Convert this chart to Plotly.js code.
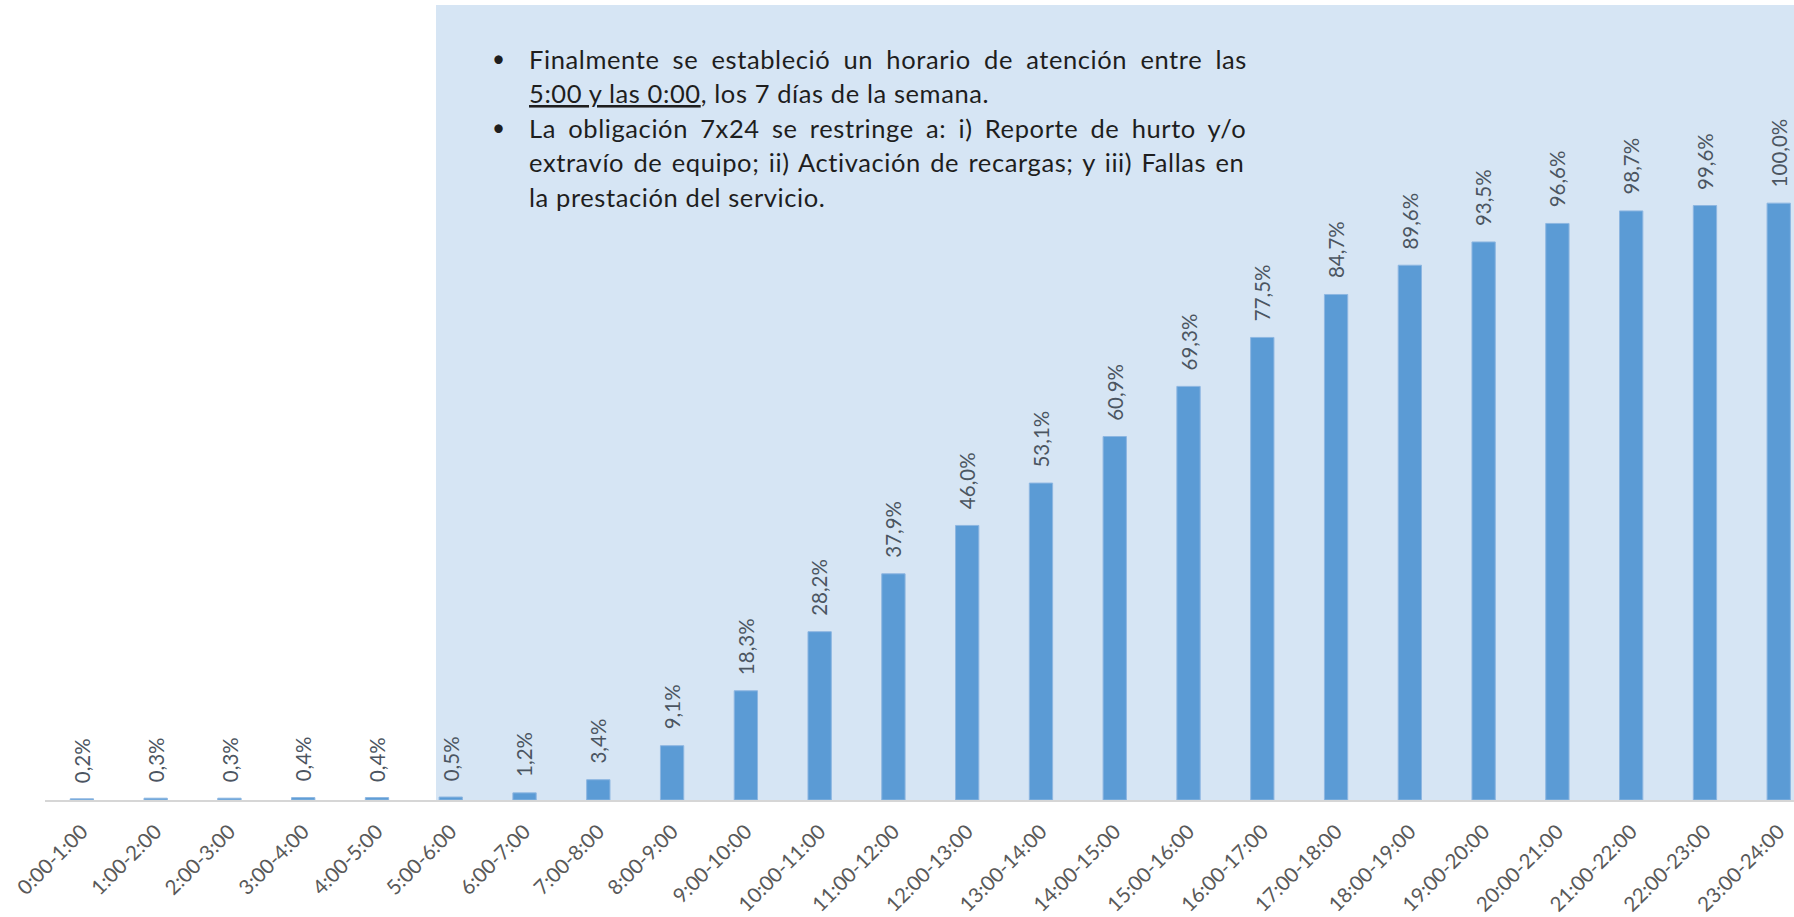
<!DOCTYPE html>
<html><head><meta charset="utf-8">
<script src="https://cdn.plot.ly/plotly-3.0.1.min.js"></script>
<style>html,body{margin:0;padding:0;background:#fff;} #chart{width:1794px;height:917px;}</style>
</head><body><div id="chart"></div>
<script>
const categories = ['0:00-1:00','1:00-2:00','2:00-3:00','3:00-4:00','4:00-5:00','5:00-6:00',
  '6:00-7:00','7:00-8:00','8:00-9:00','9:00-10:00','10:00-11:00','11:00-12:00',
  '12:00-13:00','13:00-14:00','14:00-15:00','15:00-16:00','16:00-17:00','17:00-18:00',
  '18:00-19:00','19:00-20:00','20:00-21:00','21:00-22:00','22:00-23:00','23:00-24:00'];
const values = [0.2,0.3,0.3,0.4,0.4,0.5,1.2,3.4,9.1,18.3,28.2,37.9,
  46.0,53.1,60.9,69.3,77.5,84.7,89.6,93.5,96.6,98.7,99.6,100.0];
const noteLines = [
  {text:'Finalmente se estableció un horario de atención entre las', justify:true, bullet:true},
  {text:'<u>5:00 y las 0:00</u>, los 7 días de la semana.', justify:false, bullet:false},
  {text:'La obligación 7x24 se restringe a: i) Reporte de hurto y/o', justify:true, bullet:true},
  {text:'extravío de equipo; ii) Activación de recargas; y iii) Fallas en', justify:true, bullet:false},
  {text:'la prestación del servicio.', justify:false, bullet:false}
];

const W = 1794, H = 917;
const M = {l:45, r:0, t:5, b:117};
const FONT = 'Lato, "Open Sans", sans-serif';
const pw = W - M.l - M.r, ph = H - M.t - M.b;
const pxX = px => (px - M.l) / pw;
const pxY = py => (H - M.b - py) / ph;

const labelText = values.map(v => v.toFixed(1).replace('.', ',') + '%');

const noteSize = 25.5, noteLS = 0.6;
const textLeft = 527, textRight = 1245, bulletX = 499;
const lineCenters = [59, 93.5, 128, 162.5, 197];
const ctx = document.createElement('canvas').getContext('2d');
ctx.font = noteSize + 'px Lato';

const annotations = [];
values.forEach((v, i) => {
  annotations.push({
    x: categories[i], y: v, xref:'x', yref:'y',
    text: labelText[i], showarrow:false, textangle:-90,
    xanchor:'center', yanchor:'bottom', yshift:14,
    font:{family:FONT, size:20.5, color:'#4b5561'}
  });
});
noteLines.forEach((ln, i) => {
  let txt = ln.text.replace('<u>', '<span style="text-decoration:underline">').replace('</u>', '</span>');
  let style = 'letter-spacing:' + noteLS + 'px';
  if (ln.justify) {
    const plain = ln.text.replace(/<[^>]+>/g, '');
    const w = ctx.measureText(plain).width + plain.length * noteLS;
    const gaps = plain.split(' ').length - 1;
    const ws = Math.max(0, (textRight - textLeft - w) / gaps);
    style += ';word-spacing:' + ws.toFixed(2) + 'px';
  }
  txt = '<span style="' + style + '">' + txt + '</span>';
  annotations.push({
    x: pxX(textLeft), y: pxY(lineCenters[i]), xref:'paper', yref:'paper',
    text: txt, showarrow:false, xanchor:'left', yanchor:'middle', align:'left',
    font:{family:FONT, size:noteSize, color:'#1e1e1e'}
  });
  if (ln.bullet) {
    annotations.push({
      x: pxX(bulletX), y: pxY(lineCenters[i]), xref:'paper', yref:'paper',
      text:'•', showarrow:false, xanchor:'center', yanchor:'middle',
      font:{family:FONT, size:noteSize - 3, color:'#1e1e1e'}
    });
  }
});

const trace = {
  type:'bar', x:categories, y:values, width:0.316,
  marker:{color:'#5b9bd5', line:{color:'#8db6e1', width:1}},
  hoverinfo:'x+y'
};

const layout = {
  width:W, height:H, margin:M, showlegend:false,
  paper_bgcolor:'#ffffff', plot_bgcolor:'rgba(0,0,0,0)',
  font:{family:FONT},
  xaxis:{type:'category', range:[-0.5, 23.207], showgrid:false, zeroline:false,
    showline:true, linecolor:'rgba(120,120,120,0.3)', linewidth:1.5,
    ticks:'', tickangle:-45, ticklabelstandoff:10,
    tickfont:{family:FONT, size:20.5, color:'#595959'}, fixedrange:true},
  yaxis:{range:[0, 133.2], visible:false, fixedrange:true},
  shapes:[{type:'rect', xref:'x', yref:'paper', x0:4.8, x1:24, y0:0, y1:1,
    fillcolor:'#d6e5f4', line:{width:0}, layer:'below'}],
  annotations:annotations
};

Plotly.newPlot('chart', [trace], layout, {displayModeBar:false, staticPlot:true});
</script>
</body></html>
